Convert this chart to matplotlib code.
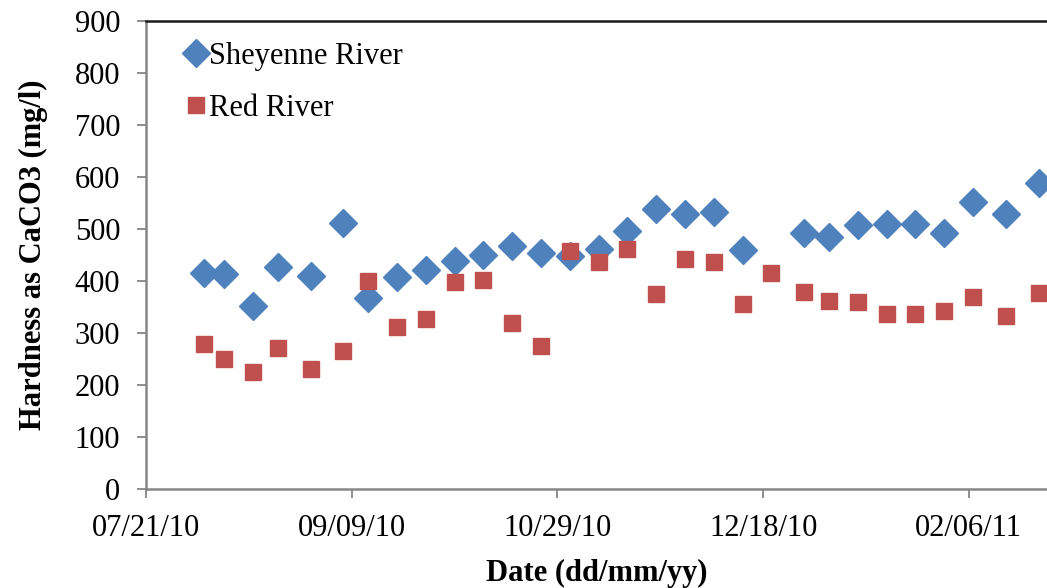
import matplotlib
matplotlib.use("Agg")
import matplotlib.pyplot as plt
import matplotlib.dates as mdates
import pandas as pd

# ── Data ─────────────────────────────────────────────────────────────────────
sheyenne_dates = [
    "08/04/10", "08/09/10", "08/16/10", "08/22/10", "08/30/10", "09/07/10",
    "09/13/10", "09/20/10", "09/27/10", "10/04/10", "10/11/10", "10/18/10",
    "10/25/10", "11/01/10", "11/08/10", "11/15/10", "11/22/10", "11/29/10",
    "12/06/10", "12/13/10", "12/28/10", "01/03/11", "01/10/11", "01/17/11",
    "01/24/11", "01/31/11", "02/07/11", "02/15/11", "02/23/11",
]
sheyenne_hardness = [
    416, 414, 351, 426, 409, 512, 367, 408, 421, 438, 449, 467, 453, 448,
    462, 495, 538, 528, 532, 459, 492, 484, 507, 510, 510, 492, 551, 528, 588,
]

red_dates = [
    "08/04/10", "08/09/10", "08/16/10", "08/22/10", "08/30/10", "09/07/10",
    "09/13/10", "09/20/10", "09/27/10", "10/04/10", "10/11/10", "10/18/10",
    "10/25/10", "11/01/10", "11/08/10", "11/15/10", "11/22/10", "11/29/10",
    "12/06/10", "12/13/10", "12/20/10", "12/28/10", "01/03/11", "01/10/11",
    "01/17/11", "01/24/11", "01/31/11", "02/07/11", "02/15/11", "02/23/11",
]
red_hardness = [
    278, 250, 226, 271, 230, 266, 399, 312, 327, 397, 402, 319, 275, 458,
    437, 461, 374, 442, 437, 355, 415, 378, 361, 359, 337, 336, 342, 370,
    332, 377,
]

tick_dates = ["07/21/10", "09/09/10", "10/29/10", "12/18/10", "02/06/11"]
y_ticks = list(range(0, 1000, 100))

fmt = "%m/%d/%y"
sh_x = pd.to_datetime(sheyenne_dates, format=fmt)
rd_x = pd.to_datetime(red_dates, format=fmt)
ticks = pd.to_datetime(tick_dates, format=fmt)

# ── Style ────────────────────────────────────────────────────────────────────
plt.rcParams["font.family"] = ["Liberation Serif", "DejaVu Serif"]
plt.rcParams["font.size"] = 22

blue = "#4F81BD"
red = "#C0504D"
axis_grey = "#868686"

fig = plt.figure(figsize=(10.47, 5.88), dpi=100)
ax = fig.add_axes([0.1394, 0.168, 0.8606, 0.797])

ax.plot(sh_x, sheyenne_hardness, linestyle="none", marker="D", markersize=14,
        color=blue, markeredgecolor=blue, label="Sheyenne River", clip_on=False)
ax.plot(rd_x, red_hardness, linestyle="none", marker="s", markersize=11,
        color=red, markeredgecolor=red, label="Red River", clip_on=False)

ax.set_ylim(0, 900)
ax.set_yticks(y_ticks)
ax.set_xlim(pd.Timestamp("2010-07-21"), pd.Timestamp("2011-02-25"))
ax.set_xticks(ticks)
ax.xaxis.set_major_formatter(mdates.DateFormatter(fmt))

for side in ["left", "bottom"]:
    ax.spines[side].set_color(axis_grey)
    ax.spines[side].set_linewidth(1.8)
ax.spines["right"].set_visible(False)
ax.spines["top"].set_color("#1a1a1a")
ax.spines["top"].set_linewidth(1.8)

ax.tick_params(axis="y", direction="out", length=6.5, width=1.3,
               color=axis_grey, pad=12, labelsize=22)
ax.tick_params(axis="x", direction="out", length=6.5, width=1.3,
               color=axis_grey, pad=11, labelsize=22)

ax.set_xlabel("Date (dd/mm/yy)", fontweight="bold", fontsize=22, labelpad=12)
ax.set_ylabel("Hardness as CaCO3 (mg/l)", fontweight="bold", fontsize=22,
              labelpad=19)

ax.legend(loc="upper left", bbox_to_anchor=(0.033, 0.98), frameon=False,
          numpoints=1, handlelength=0.5, handletextpad=0.2,
          labelspacing=0.75, fontsize=22, borderaxespad=0)

plt.savefig("out.png", dpi=100)
plt.close()
